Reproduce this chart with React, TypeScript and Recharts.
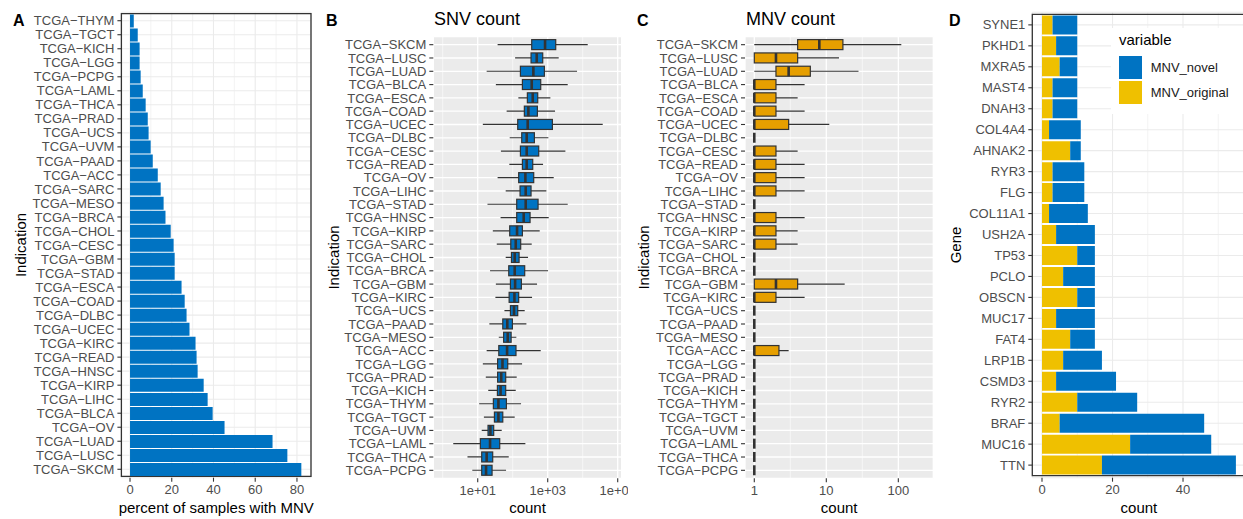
import React from 'react';
import {
  BarChart,
  Bar,
  ComposedChart,
  XAxis,
  YAxis,
  CartesianGrid,
  ReferenceArea,
  Legend,
} from 'recharts';

const FONT = '"Liberation Sans", Arial, Helvetica, sans-serif';
const BLUE = '#0073C2';
const YELLOW = '#EFC000';
const ORANGE = '#E69F00';
const INK = '#333333';
const TICK_GREY = '#4D4D4D';

// --- panel A: percent of samples with MNV (top to bottom)
const pctCancers = [
  'THYM', 'TGCT', 'KICH', 'LGG', 'PCPG', 'LAML', 'THCA', 'PRAD', 'UCS', 'UVM', 'PAAD',
  'ACC', 'SARC', 'MESO', 'BRCA', 'CHOL', 'CESC', 'GBM', 'STAD', 'ESCA', 'COAD', 'DLBC',
  'UCEC', 'KIRC', 'READ', 'HNSC', 'KIRP', 'LIHC', 'BLCA', 'OV', 'LUAD', 'LUSC', 'SKCM',
];
const pctWithMnv = [
  1.8, 3.7, 4.6, 4.6, 5.1, 6.1, 7.5, 8.5, 8.9, 9.9, 10.9,
  13.3, 14.7, 16.1, 17.0, 19.5, 20.9, 21.4, 21.4, 24.7, 26.2, 27.1,
  28.5, 31.4, 31.9, 32.4, 35.3, 37.2, 39.6, 45.3, 68.3, 75.4, 82.1,
];
const pctTicks = [0, 20, 40, 60, 80];
const pctMinor = [10, 30, 50, 70];
const pctDomain: [number, number] = [-4.13, 86.73];

// --- panels B and C: per-sample counts (box plot stats, top to bottom)
const boxCancers = [
  'SKCM', 'LUSC', 'LUAD', 'BLCA', 'ESCA', 'COAD', 'UCEC', 'DLBC', 'CESC', 'READ', 'OV',
  'LIHC', 'STAD', 'HNSC', 'KIRP', 'SARC', 'CHOL', 'BRCA', 'GBM', 'KIRC', 'UCS', 'PAAD',
  'MESO', 'ACC', 'LGG', 'PRAD', 'KICH', 'THYM', 'TGCT', 'UVM', 'LAML', 'THCA', 'PCPG',
];
const snvLow = [37, 117, 18, 33, 145, 67, 14, 82, 46, 80, 37, 63, 19, 45, 27, 35, 63, 22.5, 33, 32, 58, 21.5, 40, 18, 14, 17, 20, 11, 15, 13, 2.0, 5.1, 7.0];
const snvQ1 = [349, 334, 166, 189, 262, 215, 139, 181, 166, 189, 148, 162, 130, 130, 82, 88, 92, 77, 86, 79, 86, 52, 55, 40, 37, 37, 36.5, 28, 30, 19.7, 11.9, 13, 13];
const snvMedian = [839, 485, 389, 349, 373, 280, 268, 251, 251, 251, 230, 235, 235, 206, 133, 122, 114, 114, 117, 112, 109, 70, 72, 69, 51, 47, 45, 39, 39, 23, 22.5, 18, 17.3];
const snvQ3 = [1693, 720, 803, 631, 518, 507, 1360, 416, 553, 373, 398, 334, 530, 313, 189, 169, 152, 220, 177, 148, 139, 98, 90, 124, 72, 63, 63, 66, 52, 28.6, 42.5, 26.8, 25.7];
const snvHigh = [13900, 2061, 6890, 3727, 1191, 1620, 37300, 1045, 3199, 736, 1484, 916, 3727, 1069, 590, 349, 274, 1023, 496, 357, 220, 246, 127, 631, 185, 130, 122, 173, 114, 48.5, 230, 77, 64.5];
const snvTicks = [10, 1000, 100000];
const snvMinor = [1, 100, 10000];
const snvDomain: [number, number] = [0.538, 130000];

const mnvLow = [1, 1, 1, 1, 1, 1, 1, 1, 1, 1, 1, 1, 1, 1, 1, 1, 1, 1, 1, 1, 1, 1, 1, 1, 1, 1, 1, 1, 1, 1, 1, 1, 1];
const mnvQ1 = [4, 1, 2, 1, 1, 1, 1, 1, 1, 1, 1, 1, 1, 1, 1, 1, 1, 1, 1, 1, 1, 1, 1, 1, 1, 1, 1, 1, 1, 1, 1, 1, 1];
const mnvMedian = [8, 2, 3, 1, 1, 1, 1, 1, 1, 1, 1, 1, 1, 1, 1, 1, 1, 1, 2, 1, 1, 1, 1, 1, 1, 1, 1, 1, 1, 1, 1, 1, 1];
const mnvQ3 = [17, 4, 6, 2, 2, 2, 3, 1, 2, 2, 2, 2, 1, 2, 2, 2, 1, 1, 4, 2, 1, 1, 1, 2.2, 1, 1, 1, 1, 1, 1, 1, 1, 1];
const mnvHigh = [110, 15, 28, 5, 4, 5, 11, 1, 4, 5, 5, 5, 1, 5, 4, 4, 1, 1, 18, 5, 1, 1, 1, 3, 1, 1, 1, 1, 1, 1, 1, 1, 1];
const mnvTicks = [1, 10, 100];
const mnvMinor = [3.162, 31.62];
const mnvDomain: [number, number] = [0.743, 306];

// --- panel D: MNV genes (top to bottom)
const genes = [
  'SYNE1', 'PKHD1', 'MXRA5', 'MAST4', 'DNAH3', 'COL4A4', 'AHNAK2', 'RYR3', 'FLG', 'COL11A1', 'USH2A',
  'TP53', 'PCLO', 'OBSCN', 'MUC17', 'FAT4', 'LRP1B', 'CSMD3', 'RYR2', 'BRAF', 'MUC16', 'TTN',
];
const mnvOriginal = [3, 4, 5, 3, 3, 2, 8, 3, 3, 2, 4, 10, 6, 10, 4, 8, 6, 4, 10, 5, 25, 17];
const mnvNovel = [7, 6, 5, 7, 7, 9, 3, 9, 9, 11, 11, 5, 9, 5, 11, 7, 11, 17, 17, 41, 23, 38];
const geneTicks = [0, 20, 40];
const geneMinor = [10, 30, 50];
const geneDomain: [number, number] = [-2.75, 57.75];
const legendOrder = ['MNV_novel', 'MNV_original'];

const tcga = (c: string) => `TCGA\u2212${c}`;

const pctRows = pctCancers.map((c, i) => ({ name: tcga(c), pct: pctWithMnv[i] }));

const snvRows = boxCancers.map((c, i) => ({
  name: tcga(c),
  whisker: [snvLow[i], snvHigh[i]],
  box: [snvQ1[i], snvQ3[i]],
  med: [snvMedian[i], snvMedian[i]],
}));

const mnvRows = boxCancers.map((c, i) => ({
  name: tcga(c),
  whisker: [mnvLow[i], mnvHigh[i]],
  box: [mnvQ1[i], mnvQ3[i]],
  med: [mnvMedian[i], mnvMedian[i]],
}));

const geneRows = genes.map((g, i) => ({ gene: g, original: mnvOriginal[i], novel: mnvNovel[i] }));

const tickStyle = { fontSize: 13, fill: TICK_GREY, fontFamily: FONT };
const tickLineStyle = { stroke: INK, strokeWidth: 1.1 };

const sciFormat = (v: number) => {
  const e = Math.round(Math.log10(v));
  return `1e${e < 0 ? '-' : '+'}${String(Math.abs(e)).padStart(2, '0')}`;
};

function yTitle(text: string, dx: number) {
  return (props: any) => {
    const vb = props.viewBox || {};
    const cx = vb.x + dx;
    const cy = vb.y + vb.height / 2;
    return (
      <text
        x={cx}
        y={cy}
        transform={`rotate(-90 ${cx} ${cy})`}
        textAnchor="middle"
        dominantBaseline="central"
        fontSize={15}
        fontFamily={FONT}
        fill="#000"
      >
        {text}
      </text>
    );
  };
}

function xTitle(text: string) {
  return (props: any) => {
    const vb = props.viewBox || {};
    return (
      <text
        x={vb.x + vb.width / 2}
        y={vb.y + 35}
        textAnchor="middle"
        fontSize={15}
        fontFamily={FONT}
        fill="#000"
      >
        {text}
      </text>
    );
  };
}

const WhiskerShape = (p: any) => {
  if (!p.width || !isFinite(p.x)) return <g />;
  const cy = p.y + p.height / 2;
  return <line x1={p.x} x2={p.x + p.width} y1={cy} y2={cy} stroke={INK} strokeWidth={1.2} />;
};

const boxShape = (fill: string) => (p: any) => {
  if (!isFinite(p.x)) return <g />;
  return (
    <rect
      x={p.x}
      y={p.y}
      width={Math.max(p.width, 0)}
      height={p.height}
      fill={fill}
      stroke={INK}
      strokeWidth={1.2}
    />
  );
};

const MedianShape = (p: any) => {
  if (!isFinite(p.x)) return <g />;
  return <line x1={p.x} x2={p.x} y1={p.y} y2={p.y + p.height} stroke={INK} strokeWidth={2.6} />;
};

interface BoxPanelProps {
  rows: any[];
  domain: [number, number];
  ticks: number[];
  minor: number[];
  fmt: (v: number) => string;
  fill: string;
  chartWidth: number;
  plotLeft: number;
  plotRight: number;
}

function BoxPanel({ rows, domain, ticks, minor, fmt, fill, chartWidth, plotLeft, plotRight }: BoxPanelProps) {
  const pad = { top: 1.33, bottom: 1.33 };
  return (
    <ComposedChart
      width={chartWidth}
      height={519}
      data={rows}
      layout="vertical"
      margin={{ top: 36.7, right: chartWidth - plotRight, bottom: 0, left: 0 }}
      barCategoryGap="12%"
    >
      <CartesianGrid fill="#EBEBEB" stroke="#FFFFFF" strokeWidth={1.3} />
      <CartesianGrid stroke="#FFFFFF" strokeWidth={0.6} horizontal={false} verticalValues={minor} />
      <XAxis
        type="number"
        scale="log"
        domain={domain}
        allowDataOverflow
        ticks={ticks}
        tickFormatter={fmt}
        height={40.7}
        tick={tickStyle}
        tickSize={4}
        tickMargin={3}
        tickLine={tickLineStyle}
        axisLine={false}
        label={xTitle('count')}
      />
      <YAxis
        type="category"
        dataKey="name"
        width={plotLeft}
        interval={0}
        padding={pad}
        tick={tickStyle}
        tickSize={4}
        tickMargin={3}
        tickLine={tickLineStyle}
        axisLine={false}
        label={yTitle('Indication', 15)}
      />
      <YAxis yAxisId="box" type="category" dataKey="name" hide padding={pad} />
      <YAxis yAxisId="med" type="category" dataKey="name" hide padding={pad} />
      <Bar dataKey="whisker" shape={WhiskerShape} isAnimationActive={false} />
      <Bar yAxisId="box" dataKey="box" shape={boxShape(fill)} isAnimationActive={false} />
      <Bar yAxisId="med" dataKey="med" shape={MedianShape} isAnimationActive={false} />
    </ComposedChart>
  );
}

const renderGeneLegend = (props: any) => {
  const items = [...(props.payload || [])].sort(
    (a: any, b: any) => legendOrder.indexOf(a.value) - legendOrder.indexOf(b.value),
  );
  return (
    <div style={{ background: '#FFFFFF', padding: '3px 0 9px 8px', fontFamily: FONT }}>
      <div style={{ fontSize: 15, lineHeight: '17px', height: 17, marginBottom: 7, color: '#000' }}>variable</div>
      {items.map((it: any) => (
        <div key={it.value} style={{ display: 'flex', alignItems: 'center', height: 25 }}>
          <span style={{ display: 'inline-block', width: 22.7, height: 22.7, background: it.color }} />
          <span style={{ marginLeft: 9, fontSize: 13, color: '#1A1A1A' }}>{it.value}</span>
        </div>
      ))}
    </div>
  );
};

export default function App() {
  return (
    <div
      style={{
        position: 'absolute',
        left: 0,
        top: 0,
        width: 1243,
        height: 519,
        overflow: 'hidden',
        background: '#FFFFFF',
        fontFamily: FONT,
      }}
    >
      {/* A */}
      <div style={{ position: 'absolute', left: 0, top: 0, width: 318, height: 519, overflow: 'hidden' }}>
        <BarChart
          width={318}
          height={519}
          data={pctRows}
          layout="vertical"
          margin={{ top: 12.3, right: 7, bottom: 0, left: 0 }}
          barCategoryGap="5%"
        >
          <CartesianGrid stroke="#EBEBEB" strokeWidth={1.1} />
          <CartesianGrid stroke="#EBEBEB" strokeWidth={0.6} horizontal={false} verticalValues={pctMinor} />
          <XAxis
            type="number"
            domain={pctDomain}
            allowDataOverflow
            ticks={pctTicks}
            height={41.3}
            tick={tickStyle}
            tickSize={4}
            tickMargin={3}
            tickLine={tickLineStyle}
            axisLine={false}
            label={xTitle('percent of samples with MNV')}
          />
          <YAxis
            type="category"
            dataKey="name"
            width={121.4}
            interval={0}
            padding={{ top: 1.4, bottom: 1.4 }}
            tick={tickStyle}
            tickSize={4}
            tickMargin={3}
            tickLine={tickLineStyle}
            axisLine={false}
            label={yTitle('Indication', 20)}
          />
          <Bar dataKey="pct" fill={BLUE} isAnimationActive={false} />
          <ReferenceArea x1={pctDomain[0]} x2={pctDomain[1]} fill="none" stroke={INK} strokeWidth={1.3} ifOverflow="visible" />
        </BarChart>
      </div>

      {/* B */}
      <div style={{ position: 'absolute', left: 318, top: 0, width: 310, height: 519, overflow: 'hidden' }}>
        <BoxPanel
          rows={snvRows}
          domain={snvDomain}
          ticks={snvTicks}
          minor={snvMinor}
          fmt={sciFormat}
          fill={BLUE}
          chartWidth={318}
          plotLeft={115.3}
          plotRight={303.7}
        />
      </div>

      {/* C */}
      <div style={{ position: 'absolute', left: 628, top: 0, width: 312, height: 519, overflow: 'hidden' }}>
        <BoxPanel
          rows={mnvRows}
          domain={mnvDomain}
          ticks={mnvTicks}
          minor={mnvMinor}
          fmt={(v: number) => String(v)}
          fill={ORANGE}
          chartWidth={312}
          plotLeft={117}
          plotRight={305.3}
        />
      </div>

      {/* D */}
      <div style={{ position: 'absolute', left: 940, top: 0, width: 303, height: 519, overflow: 'hidden' }}>
        <BarChart
          width={310}
          height={519}
          data={geneRows}
          layout="vertical"
          margin={{ top: 12.3, right: 4.4, bottom: 0, left: 0 }}
          barCategoryGap="4.7%"
        >
          <CartesianGrid stroke="#EBEBEB" strokeWidth={1.1} />
          <CartesianGrid stroke="#EBEBEB" strokeWidth={0.6} horizontal={false} verticalValues={geneMinor} />
          <XAxis
            type="number"
            domain={geneDomain}
            allowDataOverflow
            ticks={geneTicks}
            height={41.3}
            tick={tickStyle}
            tickSize={4}
            tickMargin={3}
            tickLine={tickLineStyle}
            axisLine={false}
            label={xTitle('count')}
          />
          <YAxis
            type="category"
            dataKey="gene"
            width={92.3}
            interval={0}
            padding={{ top: 2.1, bottom: 2.1 }}
            tick={tickStyle}
            tickSize={4}
            tickMargin={3}
            tickLine={tickLineStyle}
            axisLine={false}
            label={yTitle('Gene', 15)}
          />
          <Bar dataKey="original" name="MNV_original" stackId="mnv" fill={YELLOW} isAnimationActive={false} />
          <Bar dataKey="novel" name="MNV_novel" stackId="mnv" fill={BLUE} isAnimationActive={false} />
          <ReferenceArea x1={geneDomain[0]} x2={geneDomain[1]} fill="none" stroke={INK} strokeWidth={1.3} ifOverflow="visible" />
          <Legend
            layout="vertical"
            align="center"
            verticalAlign="middle"
            wrapperStyle={{ left: 171, top: 28, width: 140 }}
            content={renderGeneLegend}
          />
        </BarChart>
      </div>

      {/* panel letters and titles */}
      <svg
        width={1243}
        height={519}
        style={{ position: 'absolute', left: 0, top: 0, pointerEvents: 'none' }}
        fontFamily={FONT}
      >
        <text x={13} y={26} fontSize={16} fontWeight="bold">A</text>
        <text x={326} y={26} fontSize={16} fontWeight="bold">B</text>
        <text x={637} y={26} fontSize={16} fontWeight="bold">C</text>
        <text x={949} y={26} fontSize={16} fontWeight="bold">D</text>
        <text x={434} y={25.3} fontSize={18}>SNV count</text>
        <text x={746} y={25.3} fontSize={18}>MNV count</text>
      </svg>
    </div>
  );
}
